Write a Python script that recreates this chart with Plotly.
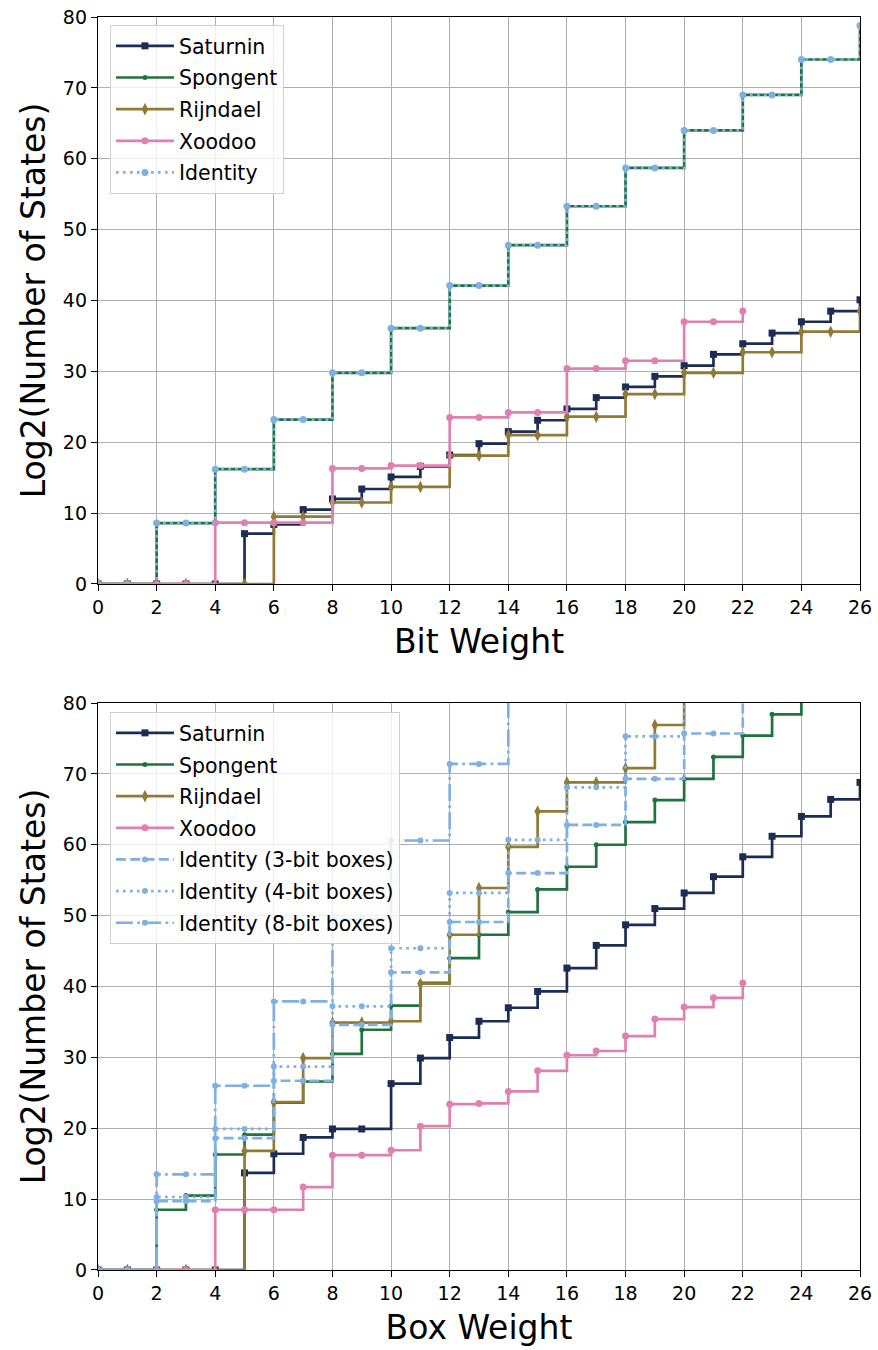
import plotly.graph_objects as go

# ---------------- data ----------------
weights = list(range(27))

# Top: bit weight
saturnin_bit = [0, 0, 0, 0, 0, 7.1, 8.4, 10.5, 12.0, 13.4, 15.1, 16.6, 18.2, 19.8, 21.5, 23.1,
                24.7, 26.3, 27.8, 29.3, 30.8, 32.4, 33.9, 35.4, 37.0, 38.5, 40.1]
spongent_bit = [0, 0, 8.6, 8.6, 16.2, 16.2, 23.2, 23.2, 29.8, 29.8, 36.1, 36.1, 42.1, 42.1,
                47.8, 47.8, 53.3, 53.3, 58.7, 58.7, 64.0, 64.0, 69.0, 69.0, 74.0, 74.0, 78.8]
rijndael_bit = [0, 0, 0, 0, 0, 0, 9.5, 9.5, 11.5, 11.5, 13.7, 13.7, 18.1, 18.1, 21.0, 21.0,
                23.6, 23.6, 26.8, 26.8, 29.8, 29.8, 32.7, 32.7, 35.6, 35.6, 38.5]
xoodoo_bit = [0, 0, 0, 0, 8.65, 8.65, 8.65, 8.65, 16.3, 16.3, 16.7, 16.7, 23.5, 23.5, 24.2,
              24.2, 30.4, 30.4, 31.5, 31.5, 37.0, 37.0, 38.5]
identity_bit = [0, 0, 8.6, 8.6, 16.2, 16.2, 23.2, 23.2, 29.8, 29.8, 36.1, 36.1, 42.1, 42.1,
                47.8, 47.8, 53.3, 53.3, 58.7, 58.7, 64.0, 64.0, 69.0, 69.0, 74.0, 74.0, 78.8]

# Bottom: box weight
saturnin_box = [0, 0, 0, 0, 0, 13.7, 16.4, 18.7, 19.9, 19.9, 26.3, 29.9, 32.8, 35.1, 37.0,
                39.3, 42.6, 45.8, 48.7, 51.0, 53.2, 55.5, 58.3, 61.2, 64.0, 66.4, 68.8]
spongent_box = [0, 0, 8.5, 10.5, 16.3, 19.1, 23.6, 26.6, 30.5, 33.9, 37.3, 40.5, 44.0, 47.3,
                50.5, 53.7, 56.9, 60.0, 63.2, 66.3, 69.3, 72.4, 75.4, 78.4, 81.5]
rijndael_box = [0, 0, 0, 0, 0, 16.8, 23.7, 29.9, 34.9, 34.9, 35.1, 40.4, 47.3, 53.9, 59.7,
                64.7, 68.8, 68.8, 70.8, 76.9, 82.5]
xoodoo_box = [0, 0, 0, 0, 8.5, 8.5, 8.5, 11.7, 16.2, 16.2, 16.9, 20.3, 23.4, 23.5, 25.2,
              28.1, 30.3, 30.9, 33.0, 35.4, 37.1, 38.4, 40.5]
identity3_box = [0, 0, 9.7, 9.7, 18.6, 18.6, 26.7, 26.7, 34.6, 34.6, 42.0, 42.0, 49.1, 49.1,
                 56.0, 56.0, 62.8, 62.8, 69.3, 69.3, 75.7, 75.7, 82.2]
identity4_box = [0, 0, 10.3, 10.3, 19.9, 19.9, 28.7, 28.7, 37.2, 37.2, 45.4, 45.4, 53.2, 53.2,
                 60.7, 60.7, 68.1, 68.1, 75.3, 75.3, 82.3]
identity8_box = [0, 0, 13.5, 13.5, 26.0, 26.0, 37.9, 37.9, 49.5, 49.5, 60.6, 60.6, 71.4, 71.4,
                 81.9]

x_ticks = list(range(0, 27, 2))
y_ticks = list(range(0, 81, 10))

# ---------------- styles ----------------
C_SAT = "#1b2d55"
C_SPO = "#1e733e"
C_RIJ = "#917a34"
C_XOO = "#e080b0"
C_ID = "#7fb0e3"
FONT = "DejaVu Sans"
LW = 2.7

fig = go.Figure()


def add(y, name, color, symbol, size, dash, xa, ya, legend):
    fig.add_trace(go.Scatter(
        x=weights[:len(y)], y=y, name=name, mode="lines+markers",
        line=dict(color=color, width=LW, shape="hv", dash=dash),
        marker=dict(color=color, symbol=symbol, size=size, line=dict(width=0)),
        xaxis=xa, yaxis=ya, legend=legend, legendgroup=legend + name,
    ))


add(saturnin_bit, "Saturnin", C_SAT, "square", 7, "solid", "x", "y", "legend")
add(spongent_bit, "Spongent", C_SPO, "circle", 5, "solid", "x", "y", "legend")
add(rijndael_bit, "Rijndael", C_RIJ, "diamond-tall", 9, "solid", "x", "y", "legend")
add(xoodoo_bit, "Xoodoo", C_XOO, "circle", 7, "solid", "x", "y", "legend")
add(identity_bit, "Identity", C_ID, "circle", 7, "2.7px,4.3px", "x", "y", "legend")

add(saturnin_box, "Saturnin", C_SAT, "square", 7, "solid", "x2", "y2", "legend2")
add(spongent_box, "Spongent", C_SPO, "circle", 5, "solid", "x2", "y2", "legend2")
add(rijndael_box, "Rijndael", C_RIJ, "diamond-tall", 9, "solid", "x2", "y2", "legend2")
add(xoodoo_box, "Xoodoo", C_XOO, "circle", 7, "solid", "x2", "y2", "legend2")
add(identity3_box, "Identity (3-bit boxes)", C_ID, "circle", 6, "10px,4.3px", "x2", "y2", "legend2")
add(identity4_box, "Identity (4-bit boxes)", C_ID, "circle", 6, "2.7px,4.3px", "x2", "y2", "legend2")
add(identity8_box, "Identity (8-bit boxes)", C_ID, "circle", 6, "17px,4.3px,2.7px,4.3px", "x2", "y2", "legend2")

axis_common = dict(
    showline=True, linecolor="black", linewidth=1.3, mirror=True,
    ticks="outside", ticklen=6, tickwidth=1.3, tickcolor="black",
    showgrid=True, gridcolor="#b0b0b0", gridwidth=1.2, zeroline=False,
    tickfont=dict(family=FONT, size=19, color="black"), automargin=False,
)

xa = dict(axis_common, range=[0, 26], tickvals=x_ticks)
ya = dict(axis_common, range=[0, 80], tickvals=y_ticks)

legend_common = dict(
    font=dict(family=FONT, size=20.5, color="black"),
    bgcolor="rgba(255,255,255,0.8)", bordercolor="#d0d0d0", borderwidth=1,
    xanchor="left", yanchor="top", tracegroupgap=2, itemwidth=58,
)

TF = dict(family=FONT, size=33, color="black")

fig.update_layout(
    width=878, height=1350,
    margin=dict(l=98, r=18, t=17, b=80, autoexpand=False),
    plot_bgcolor="white", paper_bgcolor="white",
    font=dict(family=FONT, color="black"),
    xaxis=dict(xa, domain=[0, 1], anchor="y",
               title=dict(text="Bit Weight", font=TF, standoff=12)),
    yaxis=dict(ya, domain=[0.5475, 1], anchor="x",
               title=dict(text="Log2(Number of States)", font=TF, standoff=7)),
    xaxis2=dict(xa, domain=[0, 1], anchor="y2",
                title=dict(text="Box Weight", font=TF, standoff=12)),
    yaxis2=dict(ya, domain=[0, 0.4525], anchor="x2",
                title=dict(text="Log2(Number of States)", font=TF, standoff=7)),
    legend=dict(legend_common, x=0.0157, y=0.9936),
    legend2=dict(legend_common, x=0.0157, y=0.4453),
    showlegend=True,
)

# remove the default 8px page margin so the figure fills the window exactly
fig.write_html("out.html", config={"displayModeBar": False},
               post_script="document.body.style.margin='0px';")
